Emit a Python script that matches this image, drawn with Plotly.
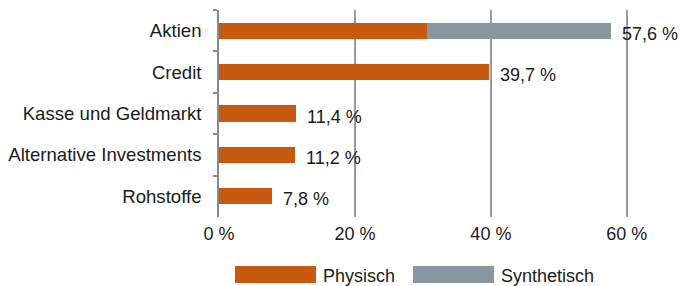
import plotly.graph_objects as go

categories = ["Aktien", "Credit", "Kasse und Geldmarkt", "Alternative Investments", "Rohstoffe"]
physisch = [30.6, 39.7, 11.4, 11.2, 7.8]
synthetisch = [27.0, 0, 0, 0, 0]
totals = [57.6, 39.7, 11.4, 11.2, 7.8]
total_labels = ["57,6 %", "39,7 %", "11,4 %", "11,2 %", "7,8 %"]
x_ticks = [0, 20, 40, 60]
x_tick_labels = ["0 %", "20 %", "40 %", "60 %"]
series_names = ["Physisch", "Synthetisch"]

ORANGE = "#C65A11"
GRAY = "#8A97A1"
FONT = "Liberation Sans, Arial, Helvetica, sans-serif"
TXT = "#1a1a1a"
FS = 18

W, H = 680, 286
L, R, T, B = 219, 26, 10, 69
XMAX = 64

fig = go.Figure()
fig.add_trace(go.Bar(y=categories, x=physisch, orientation="h", name=series_names[0],
                     marker=dict(color=ORANGE, line=dict(width=0)), showlegend=False))
fig.add_trace(go.Bar(y=categories, x=synthetisch, orientation="h", name=series_names[1],
                     marker=dict(color=GRAY, line=dict(width=0)), showlegend=False))

for c, t, lab in zip(categories, totals, total_labels):
    fig.add_annotation(x=t, y=c, text=lab, showarrow=False, xanchor="left", xshift=9, yshift=-3,
                       font=dict(family=FONT, size=FS, color=TXT))

# custom legend (wide swatches)
pw = W - L - R
def px(xp):
    return (xp - L) / pw
def py(yp):
    return 1 - (yp - T) / (H - T - B)

legend_items = [(series_names[0], ORANGE, 235, 316, 321), (series_names[1], GRAY, 413, 494, 499)]
for name, col, x0, x1, xt in legend_items:
    fig.add_shape(type="rect", xref="paper", yref="paper", x0=px(x0), x1=px(x1), y0=py(283), y1=py(266),
                  fillcolor=col, line=dict(width=0))
    fig.add_annotation(xref="paper", yref="paper", x=px(xt), y=py(276), text=name, showarrow=False,
                       xanchor="left", yanchor="middle", font=dict(family=FONT, size=FS, color=TXT))

fig.update_layout(
    width=W, height=H, margin=dict(l=L, r=R, t=T, b=B, autoexpand=False),
    barmode="stack", bargap=0.61,
    plot_bgcolor="white", paper_bgcolor="white",
    font=dict(family=FONT, size=FS, color=TXT),
    showlegend=False,
)
fig.update_xaxes(range=[0, XMAX], tickvals=x_ticks, ticktext=x_tick_labels,
                 showgrid=True, gridcolor="#9a9a9a", gridwidth=1.5, automargin=False,
                 zeroline=False, showline=False, ticks="", ticklabelstandoff=4, fixedrange=True)
fig.update_yaxes(categoryorder="array", categoryarray=categories, autorange="reversed",
                 showline=True, linecolor="#8a8a8a", linewidth=1.5, automargin=False,
                 ticks="outside", tickson="boundaries", ticklen=4, tickcolor="#8a8a8a", tickwidth=1.5,
                 showgrid=False, ticklabelstandoff=12, tickfont=dict(size=18.6), fixedrange=True)

fig.write_html("out.html", config={"displayModeBar": False},
               post_script="document.body.style.margin='0';document.body.style.overflow='hidden';")
